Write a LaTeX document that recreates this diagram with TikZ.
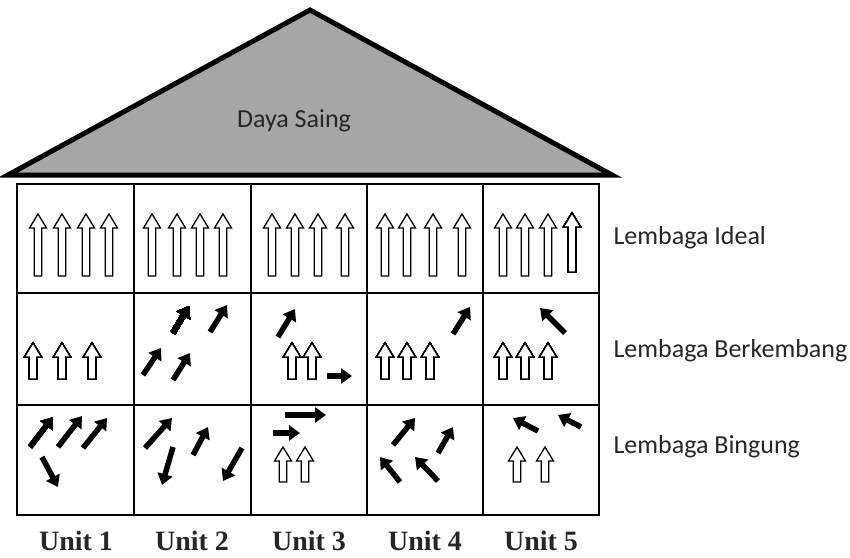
\documentclass[tikz,border=0pt]{standalone}
\usepackage{fontspec}
\setmainfont{Carlito}
\newfontfamily\unitfont{Liberation Serif}
\usetikzlibrary{arrows.meta}
\definecolor{roofgray}{HTML}{A6A6A6}
\definecolor{labelgray}{HTML}{262626}
\tikzset{
    roof/.style={fill=roofgray, draw=black, line width=5pt, line join=miter},
    gridline/.style={line width=2.4pt},
    hollow/.style={draw=black, fill=white, line width=1.3pt, line join=miter},
    blackarrow/.style={line width=5.5pt, -{Triangle[length=11pt,width=15pt]}},
    rowlabel/.style={anchor=west, text=labelgray, font=\fontsize{26}{30}\selectfont},
    unitlabel/.style={text=labelgray, font=\unitfont\bfseries\fontsize{28}{32}\selectfont},
}
% white block arrow pointing up: x, tip y, foot y
\newcommand{\hollowup}[3]{%
    \draw[hollow] (#1-3.8,#3) -- (#1-3.8,#2+14) -- (#1-8.5,#2+14) -- (#1,#2)
        -- (#1+8.5,#2+14) -- (#1+3.8,#2+14) -- (#1+3.8,#3) -- cycle;}

\begin{document}
\begin{tikzpicture}[x=1pt, y=-1pt]
        \useasboundingbox (0,0) rectangle (850,557);
        %roof
        \draw[roof] (310,10) -- (612,175) -- (8,175) -- cycle;
        \node[text=labelgray, font=\fontsize{26}{30}\selectfont] (roofname) at (294,121) {Daya Saing};
        %table
        \draw[gridline] (17,184) rectangle (599,515);
        \foreach \y in {293,405}
            \draw[gridline] (17,\y) -- (599,\y);
        \foreach \x in {134,251,367,483}
            \draw[gridline] (\x,184) -- (\x,515);
        %row 1
        \foreach \x in {38,62,86,109, 152,177,200,223, 272,295,318,345, 385,407,433,462, 503,525,548}
            \hollowup{\x}{214}{276}
        \hollowup{572}{213}{272}
        %row 2
        \foreach \x in {33,62,92, 292,312, 385,407,430, 503,525,548}
            \hollowup{\x}{343}{379}
        \draw[blackarrow] (173,333) -- (189,306);
        \draw[blackarrow] (210,332) -- (227,305);
        \draw[blackarrow] (143,375) -- (161,348);
        \draw[blackarrow] (173,380) -- (190,353);
        \draw[blackarrow] (278,337) -- (295,309);
        \draw[blackarrow] (327,376) -- (352,376);
        \draw[blackarrow] (453,334) -- (470,307);
        \draw[blackarrow] (565,333) -- (540,308);
        %row 3
        \foreach \x in {283,305, 517,545}
            \hollowup{\x}{447}{482}
        \draw[blackarrow] (30,447) -- (53,417);
        \draw[blackarrow] (58,447) -- (82,416);
        \draw[blackarrow] (83,448) -- (107,418);
        \draw[blackarrow] (42,457) -- (58,487);
        \draw[blackarrow] (145,448) -- (172,418);
        \draw[blackarrow] (173,447) -- (162,485);
        \draw[blackarrow] (193,455) -- (208,427);
        \draw[blackarrow] (242,448) -- (223,481);
        \draw[blackarrow] (285,415) -- (326,415);
        \draw[blackarrow] (273,433) -- (300,433);
        \draw[blackarrow] (393,445) -- (415,418);
        \draw[blackarrow] (438,453) -- (453,427);
        \draw[blackarrow] (400,482) -- (380,457);
        \draw[blackarrow] (438,481) -- (415,457);
        \draw[blackarrow] (538,431) -- (513,418);
        \draw[blackarrow] (581,427) -- (558,415);
        %labels
        \node[rowlabel] (ideal) at (610,238) {Lembaga Ideal};
        \node[rowlabel] (berkembang) at (610,351) {Lembaga Berkembang};
        \node[rowlabel] (bingung) at (610,447) {Lembaga Bingung};
        \foreach \x/\n in {76/1,192/2,309/3,425/4,541/5}
            \node[unitlabel] (unit\n) at (\x,541) {Unit \n};
    \end{tikzpicture}
\end{document}
